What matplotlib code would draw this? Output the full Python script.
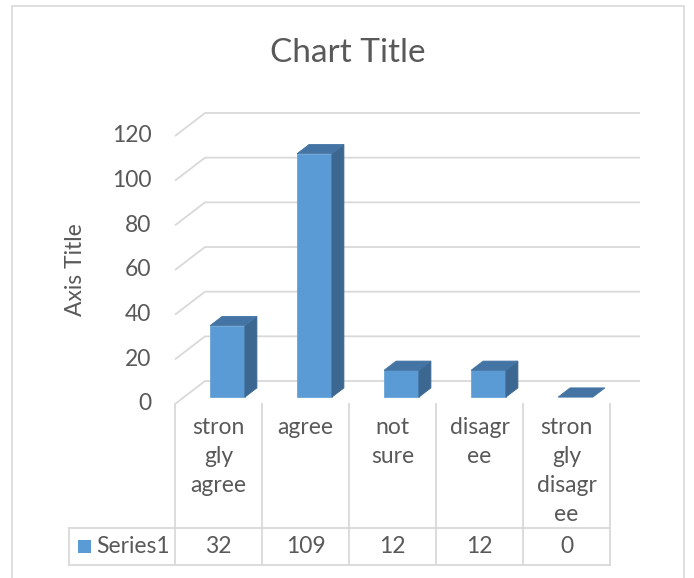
import matplotlib
matplotlib.use('Agg')
import matplotlib.pyplot as plt
from matplotlib.patches import Polygon, Rectangle

plt.rcParams['font.family'] = ['Lato', 'DejaVu Sans']

categories = ["stron\ngly\nagree", "agree", "not\nsure", "disagr\nee", "stron\ngly\ndisagr\nee"]
values = [32, 109, 12, 12, 0]
ticks = [0, 20, 40, 60, 80, 100, 120]
series_name = "Series1"

W, H = 694, 578
TEXT = '#595959'
GRID = '#D9D9D9'
FRONT, SIDE, TOP = '#5B9BD5', '#3B6790', '#4474A3'
FS = 16.5

# pixel layout of the plot floor / value scale
X0_PX, CAT_PX = 175, 87
Y0_PX, VAL_PX = 404, 268 / 120
DX, DY = 30 / CAT_PX, 23 / VAL_PX   # depth offset in data units
Z0, Z1 = 0.3, 0.7
HALF = 0.2

fig = plt.figure(figsize=(W / 100, H / 100), dpi=100)
ax = fig.add_axes([0, 0, 1, 1])
ax.set_xlim(-X0_PX / CAT_PX, (W - X0_PX) / CAT_PX)
ax.set_ylim(-(H - Y0_PX) / VAL_PX, Y0_PX / VAL_PX)
ax.axis('off')


def proj(x, v, z):
    return (x + z * DX, v + z * DY)


def px(x, y):
    return (x / W, 1 - y / H)


n = len(categories)

# chart border
fig.patches.append(Rectangle(px(12, 580), 672 / W, 574 / H, transform=fig.transFigure,
                             fill=False, ec=GRID, lw=1.2))

# gridlines on side + back wall
for t in ticks:
    pts = [proj(0, t, 0), proj(0, t, 1), proj(n, t, 1)]
    ax.plot([p[0] for p in pts], [p[1] for p in pts], color=GRID, lw=1.3, zorder=1,
            solid_capstyle='butt')
    ax.text(-0.27, t, str(t), ha='right', va='center', fontsize=FS, color=TEXT)

# bars
for i, v in enumerate(values):
    c = i + 0.5
    xa, xb = c - HALF, c + HALF
    front = [proj(xa, 0, Z0), proj(xb, 0, Z0), proj(xb, v, Z0), proj(xa, v, Z0)]
    side = [proj(xb, 0, Z0), proj(xb, 0, Z1), proj(xb, v, Z1), proj(xb, v, Z0)]
    top = [proj(xa, v, Z0), proj(xb, v, Z0), proj(xb, v, Z1), proj(xa, v, Z1)]
    if v > 0:
        ax.add_patch(Polygon(front, closed=True, fc=FRONT, ec='#6BA5D9', lw=0.6, zorder=3))
        ax.add_patch(Polygon(side, closed=True, fc=SIDE, ec=SIDE, lw=0.6, zorder=3))
    ax.add_patch(Polygon(top, closed=True, fc=TOP, ec=TOP, lw=0.6, zorder=3))

# data table
tab_bot = -(565 - Y0_PX) / VAL_PX
row_top = -(528 - Y0_PX) / VAL_PX
left = -(X0_PX - 69) / CAT_PX
for k in range(n + 1):
    ax.plot([k, k], [0, tab_bot], color=GRID, lw=1.3, zorder=1)
ax.plot([left, n], [row_top, row_top], color=GRID, lw=1.3, zorder=1)
ax.plot([left, n], [tab_bot, tab_bot], color=GRID, lw=1.3, zorder=1)
ax.plot([left, left], [row_top, tab_bot], color=GRID, lw=1.3, zorder=1)

line_h = 28.8 / VAL_PX
first = -(428 - Y0_PX) / VAL_PX
row_mid = (row_top + tab_bot) / 2
for i, lab in enumerate(categories):
    for j, part in enumerate(lab.split('\n')):
        ax.text(i + 0.5, first - j * line_h, part, ha='center', va='center',
                fontsize=FS, color=TEXT)
    ax.text(i + 0.5, row_mid, str(values[i]), ha='center', va='center',
            fontsize=FS, color=TEXT)

ax.add_patch(Rectangle((-(X0_PX - 78) / CAT_PX, row_mid - 6.5 / VAL_PX), 13 / CAT_PX,
                       13 / VAL_PX, fc=FRONT, ec='none', zorder=3))
ax.text(-(X0_PX - 96) / CAT_PX, row_mid, series_name, ha='left', va='center',
        fontsize=FS, color=TEXT)

# titles
fig.text(*px(348, 53), "Chart Title", ha='center', va='center', fontsize=24, color=TEXT)
fig.text(*px(75, 270), "Axis Title", ha='center', va='center', rotation=90,
         fontsize=FS, color=TEXT)

fig.savefig('out.png', dpi=100)
